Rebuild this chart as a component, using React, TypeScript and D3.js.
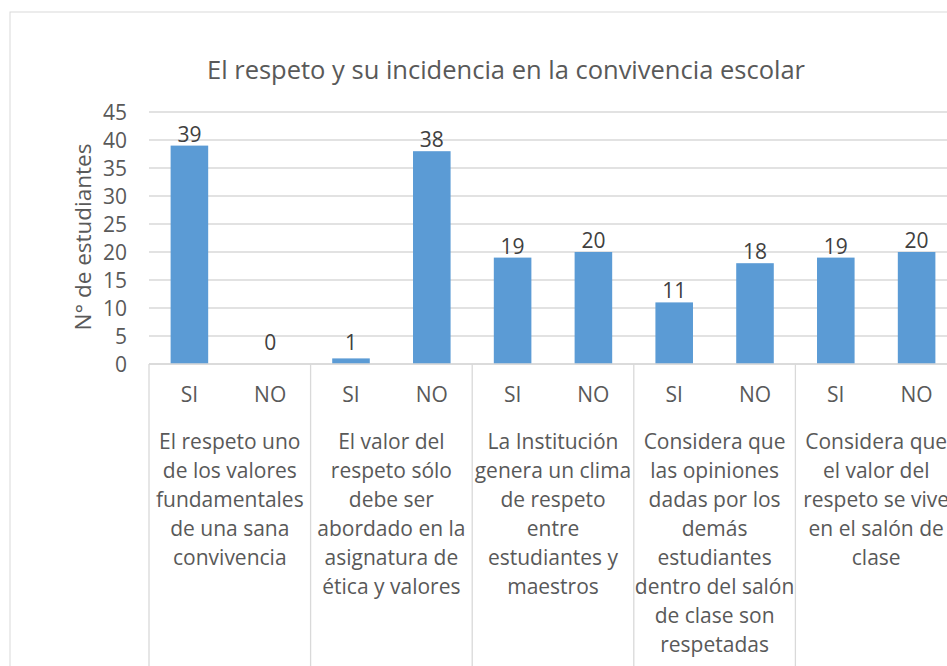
import { scaleBand, scaleLinear } from "d3";

const title = "El respeto y su incidencia en la convivencia escolar";
const yAxisTitle = "N° de estudiantes";
const yTicks = [0, 5, 10, 15, 20, 25, 30, 35, 40, 45];

const questions = ["q1", "q2", "q3", "q4", "q5"];
const questionLines = [
  ["El respeto uno", "de los valores", "fundamentales", "de una sana", "convivencia"],
  ["El valor del", "respeto sólo", "debe ser", "abordado en la", "asignatura de", "ética y valores"],
  ["La Institución", "genera un clima", "de respeto", "entre", "estudiantes y", "maestros"],
  ["Considera que", "las opiniones", "dadas por los", "demás", "estudiantes", "dentro del salón", "de clase son", "respetadas"],
  ["Considera que", "el valor del", "respeto se vive", "en el salón de", "clase"],
];
const answers = ["SI", "NO"];
const values = [39, 0, 1, 38, 19, 20, 11, 18, 19, 20];

const W = 947;
const H = 666;
const PLOT = { left: 149, right: 957, top: 112, bottom: 364 };
const FONT = "'Open Sans', sans-serif";
const BAR = "#5b9bd5";
const GRID = "#d9d9d9";
const TEXT = "#595959";
const LABEL_SIZE = 21;

export default function App() {
  const slots = values.map((_, i) => `${questions[Math.floor(i / 2)]}-${answers[i % 2]}`);
  const x = scaleBand<string>()
    .domain(slots)
    .range([PLOT.left, PLOT.right])
    .paddingInner(0.535)
    .paddingOuter(0.2675);
  const xGroup = scaleBand<string>().domain(questions).range([PLOT.left, PLOT.right]);
  const y = scaleLinear().domain([0, 45]).range([PLOT.bottom, PLOT.top]);

  return (
    <div style={{ position: "fixed", left: 0, top: 0, width: W, height: H, overflow: "hidden", background: "#fff" }}>
      <svg width={W} height={H} style={{ display: "block", fontFamily: FONT }}>
        <rect x={10} y={12} width={W + 20} height={H + 20} fill="#fff" stroke={GRID} strokeWidth={1} />
        <text x={506} y={69} textAnchor="middle" dominantBaseline="central" fontSize={25.5} fill={TEXT}>
          {title}
        </text>

        {yTicks.map((t) => (
          <g key={t}>
            <line x1={PLOT.left} x2={PLOT.right} y1={y(t)} y2={y(t)} stroke={GRID} strokeWidth={1.3} />
            <text x={127} y={y(t)} textAnchor="end" dominantBaseline="central" fontSize={LABEL_SIZE} fill={TEXT}>
              {t}
            </text>
          </g>
        ))}
        <text
          transform={`translate(82,${(PLOT.top + PLOT.bottom) / 2 - 1}) rotate(-90)`}
          textAnchor="middle"
          dominantBaseline="central"
          fontSize={22.5}
          fill={TEXT}
        >
          {yAxisTitle}
        </text>

        {values.map((v, i) => {
          const key = slots[i];
          const bx = x(key) ?? 0;
          const cx = bx + x.bandwidth() / 2;
          const labelY = Math.min(y(v) - 12, y(0) - 22);
          return (
            <g key={key}>
              <rect x={bx} y={y(v)} width={x.bandwidth()} height={y(0) - y(v)} fill={BAR} />
              <text x={cx} y={labelY} textAnchor="middle" dominantBaseline="central" fontSize={LABEL_SIZE} fill="#404040">
                {v}
              </text>
              <text x={cx} y={394} textAnchor="middle" dominantBaseline="central" fontSize={LABEL_SIZE} fill={TEXT}>
                {answers[i % 2]}
              </text>
            </g>
          );
        })}

        <line x1={PLOT.left} x2={PLOT.right} y1={y(0)} y2={y(0)} stroke={GRID} strokeWidth={1.3} />
        {questions.map((q, gi) => {
          const gx = xGroup(q) ?? 0;
          const cx = gx + xGroup.bandwidth() / 2;
          return (
            <g key={q}>
              <line x1={gx} x2={gx} y1={y(0)} y2={H + 10} stroke={GRID} strokeWidth={1.3} />
              {questionLines[gi].map((ln, li) => (
                <text
                  key={li}
                  x={cx}
                  y={441 + li * 29}
                  textAnchor="middle"
                  dominantBaseline="central"
                  fontSize={LABEL_SIZE}
                  fill={TEXT}
                >
                  {ln}
                </text>
              ))}
            </g>
          );
        })}
        <line x1={PLOT.right} x2={PLOT.right} y1={y(0)} y2={H + 10} stroke={GRID} strokeWidth={1.3} />
      </svg>
    </div>
  );
}
